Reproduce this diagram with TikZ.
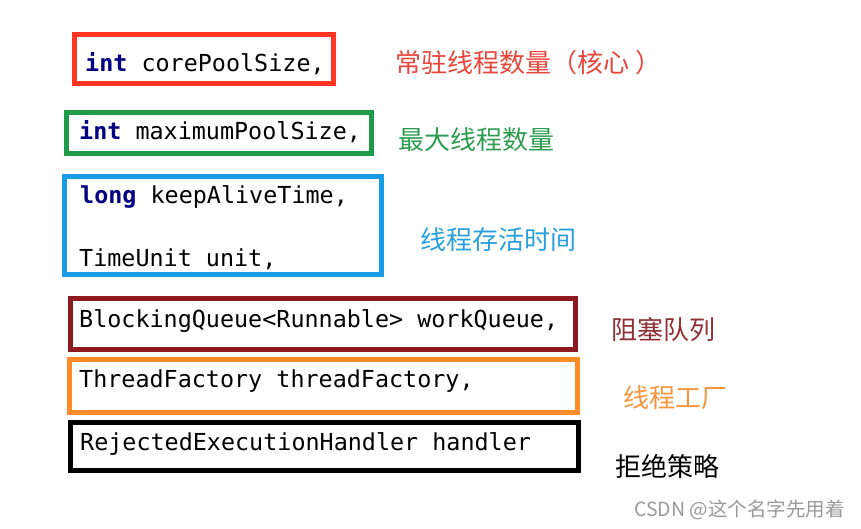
\documentclass[tikz,border=0pt]{standalone}
\usepackage{fontspec}
\usepackage{tikz}
\usetikzlibrary{positioning}
\setmonofont{DejaVu Sans Mono}
\newfontfamily\cjk{Noto Sans CJK SC}
\definecolor{coreRed}{HTML}{FF3624}
\definecolor{maxGreen}{HTML}{1E9B48}
\definecolor{aliveBlue}{HTML}{1A9BE6}
\definecolor{queueRed}{HTML}{8E1A1F}
\definecolor{factOrange}{HTML}{FF8C28}
\definecolor{kwNavy}{HTML}{000080}
\definecolor{coreTxtRed}{HTML}{E8463A}
\definecolor{maxTxtGreen}{HTML}{2E9C50}
\definecolor{aliveTxtBlue}{HTML}{2A9FDC}
\definecolor{queueTxtRed}{HTML}{8E3035}
\definecolor{factTxtOrange}{HTML}{F5963E}
\definecolor{markGray}{HTML}{9A9A9A}
\newcommand\javakw[1]{\textcolor{kwNavy}{\bfseries #1}}

\begin{document}
\begin{tikzpicture}[x=1pt, y=-1pt,
    param/.style={draw=#1, line width=5pt, inner sep=0pt, outer sep=0pt},
    code/.style={anchor=base west, inner sep=0pt,
      font=\ttfamily\fontsize{23.4}{28}\selectfont},
    note/.style={text=#1, anchor=west, inner sep=0pt,
      font=\cjk\fontsize{26}{30}\selectfont}]
  \useasboundingbox (0,0) rectangle (861,529);
  % one framed box per constructor parameter
  \foreach \name/\col/\cx/\cy/\w/\h in {
      core/coreRed/204/59/259/49,
      max/maxGreen/219/133/305/41,
      alive/aliveBlue/223/225.5/317/98,
      queue/queueRed/323/324/505/51,
      fact/factOrange/323.5/386/508/53,
      reject/black/324.5/446.5/508/48}
    \node[param=\col, minimum width=\w pt, minimum height=\h pt] (\name) at (\cx,\cy) {};
  % parameter code lines
  \node[code] (coreCode) at (85,72) {\javakw{int} corePoolSize,};
  \node[code] (maxCode) at (79,140) {\javakw{int} maximumPoolSize,};
  \node[code] (aliveCode) at (80,204) {\javakw{long} keepAliveTime,};
  \node[code] (unitCode) at (79,266) {TimeUnit unit,};
  \node[code] (queueCode) at (79,327) {BlockingQueue<Runnable> workQueue,};
  \node[code] (factCode) at (79,387) {ThreadFactory threadFactory,};
  \node[code] (rejectCode) at (80,450) {RejectedExecutionHandler handler};
  % chinese notes on the right
  \node[note=coreTxtRed] (coreNote) at (395,63) {常驻线程数量（核心\hspace{6pt}）};
  \node[note=maxTxtGreen] (maxNote) at (398,140) {最大线程数量};
  \node[note=aliveTxtBlue] (aliveNote) at (420,239.5) {线程存活时间};
  \node[note=queueTxtRed] (queueNote) at (611,330) {阻塞队列};
  \node[note=factTxtOrange] (factNote) at (623,398) {线程工厂};
  \node[note=black] (rejectNote) at (615,466) {拒绝策略};
  % watermark
  \node[text=markGray, anchor=west, inner sep=0pt,
    font=\cjk\fontsize{19.5}{22}\selectfont] (mark) at (634,510) {CSDN @这个名字先用着};
\end{tikzpicture}
\end{document}
